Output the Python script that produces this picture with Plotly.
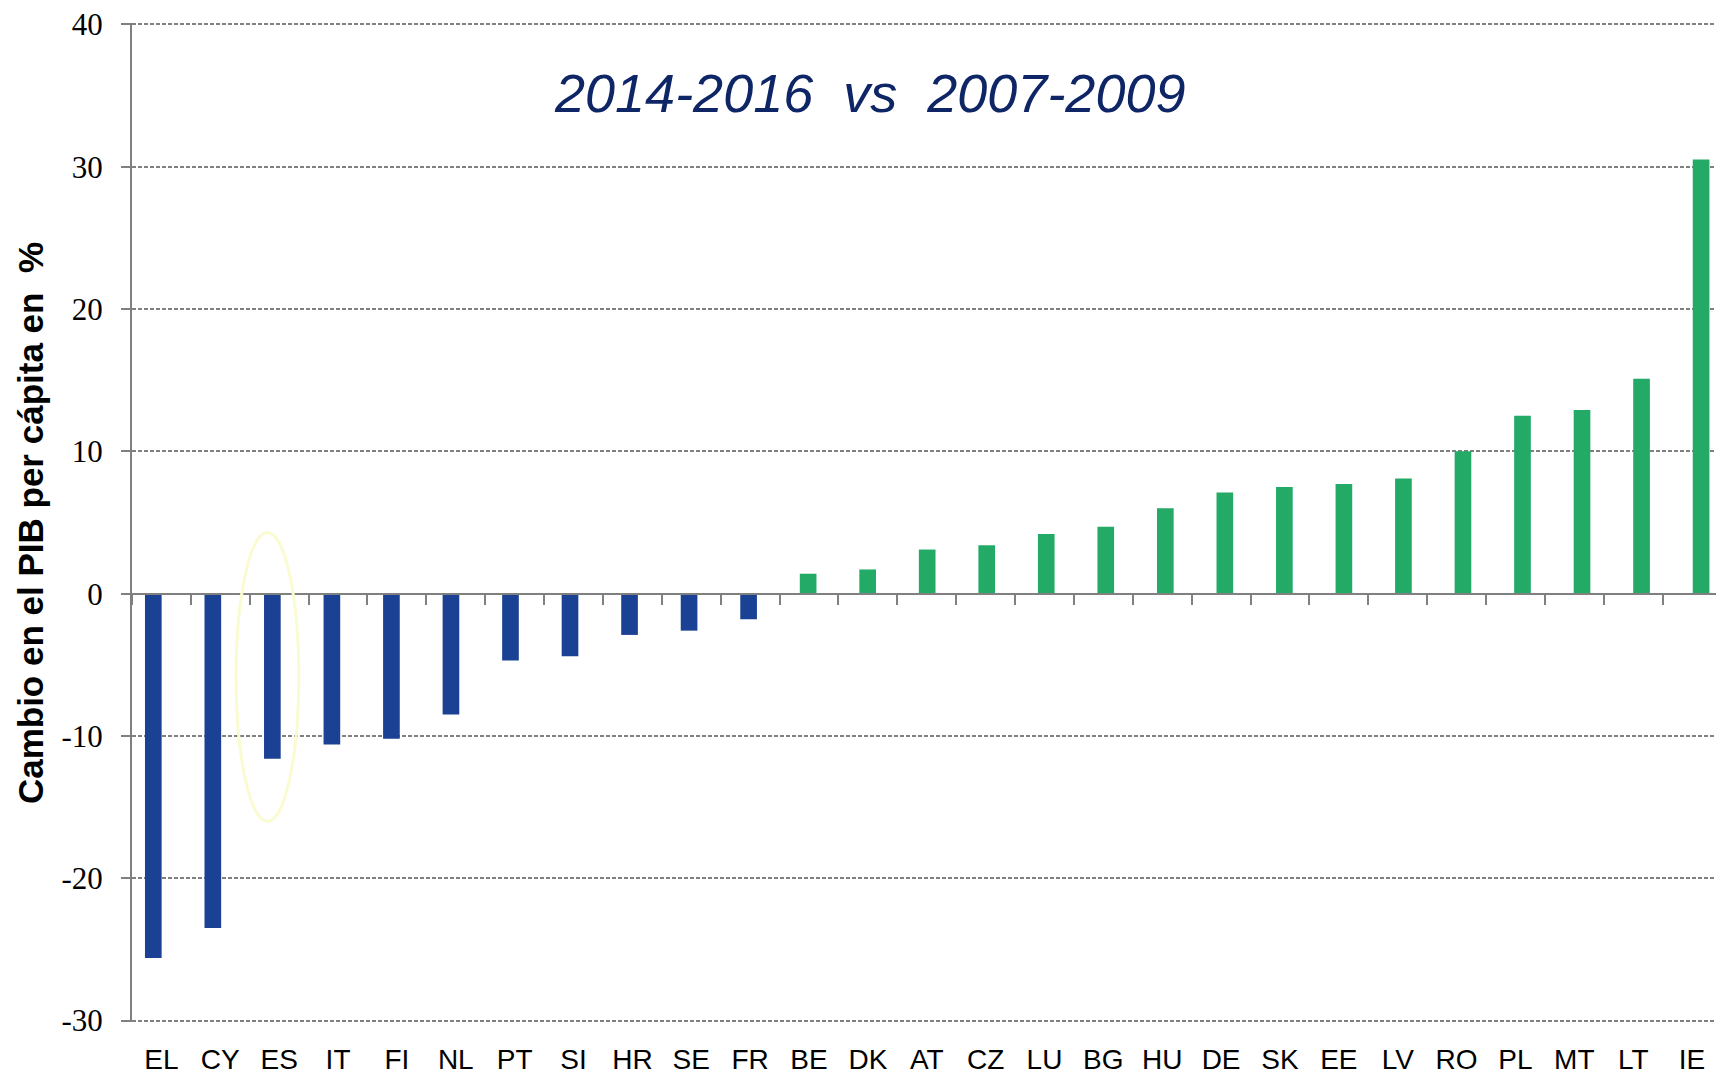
import plotly.graph_objects as go

countries = ["EL", "CY", "ES", "IT", "FI", "NL", "PT", "SI", "HR", "SE", "FR",
             "BE", "DK", "AT", "CZ", "LU", "BG", "HU", "DE", "SK", "EE", "LV",
             "RO", "PL", "MT", "LT", "IE"]
change_pct = [-25.6, -23.5, -11.6, -10.6, -10.2, -8.5, -4.7, -4.4, -2.9, -2.6, -1.8,
              1.4, 1.7, 3.1, 3.4, 4.2, 4.7, 6.0, 7.1, 7.5, 7.7, 8.1,
              10.0, 12.5, 12.9, 15.1, 30.5]
y_ticks = [-30, -20, -10, 0, 10, 20, 30, 40]
highlight = "ES"
highlight_span = (-16.0, 4.3)

title_text = "2014-2016  vs  2007-2009"
y_title = "Cambio en el PIB per cápita en  %"

BLUE = "#1A4193"
GREEN = "#22AA66"
GRAY = "#808080"

colors = [BLUE if v < 0 else GREEN for v in change_pct]

W, H = 1716, 1075
L = 132
ymin, ymax = -30.1, 40.1
px_per_unit = 14.24
plot_h = (ymax - ymin) * px_per_unit
T = 24 - 0.1 * px_per_unit
B = H - T - plot_h
zero_pos = (0 - ymin) / (ymax - ymin)
plot_w = W - L

bar_step = 59.53
bar_r0 = -(153.3 - L) / bar_step
bar_range = [bar_r0, bar_r0 + plot_w / bar_step]
slot_step = 58.87
slot_range = [-0.5, -0.5 + plot_w / slot_step]

fig = go.Figure()
fig.add_trace(go.Bar(x=countries, y=change_pct, marker=dict(color=colors, line=dict(width=0)),
                     xaxis="x", yaxis="y", showlegend=False))
# invisible helper traces for the tick axis (at zero) and the labelled bottom axis
for ax in ("x2", "x3"):
    fig.add_trace(go.Scatter(x=countries, y=[0] * len(countries), mode="markers",
                             marker=dict(opacity=0), xaxis=ax, yaxis="y",
                             showlegend=False, hoverinfo="skip"))

fig.update_layout(
    width=W, height=H,
    margin=dict(l=L, r=0, t=T, b=B, autoexpand=False),
    paper_bgcolor="white", plot_bgcolor="white",
    bargap=0.72,
    xaxis=dict(
        type="category", range=bar_range, showticklabels=False, ticks="",
        showgrid=False, showline=False, zeroline=False, automargin=False,
    ),
    xaxis2=dict(
        type="category", range=slot_range, overlaying="x", anchor="free",
        position=zero_pos, showticklabels=False, ticks="outside",
        tickson="boundaries", ticklen=10, tickwidth=2, tickcolor=GRAY,
        showgrid=False, showline=True, linecolor=GRAY, linewidth=2,
        zeroline=False, layer="above traces", automargin=False,
    ),
    xaxis3=dict(
        type="category", range=slot_range, overlaying="x", side="bottom",
        anchor="y", showline=False, showgrid=False, ticks="",
        ticklabelstandoff=18, automargin=False,
        tickfont=dict(family="Liberation Sans, Arial", size=28, color="black"),
    ),
    yaxis=dict(
        range=[ymin, ymax], tickvals=y_ticks, ticktext=[str(v) for v in y_ticks],
        showline=True, linecolor=GRAY, linewidth=2,
        ticks="outside", ticklen=9, tickwidth=2, tickcolor=GRAY,
        ticklabelstandoff=12,
        showgrid=True, gridcolor=GRAY, gridwidth=1.5, griddash="4px,2px",
        zeroline=False, automargin=False,
        tickfont=dict(family="Liberation Serif, Times New Roman, serif", size=31, color="black"),
    ),
    annotations=[
        dict(text="<i>" + title_text + "</i>", xref="paper", yref="paper",
             x=(870 - L) / plot_w, y=(H - B - 93) / plot_h,
             xanchor="center", yanchor="middle", showarrow=False,
             font=dict(family="Liberation Sans, Arial", size=54, color="#0E2566")),
        dict(text="<b>" + y_title + "</b>", xref="paper", yref="paper",
             x=(30 - L) / plot_w, y=(H - B - 523) / plot_h, textangle=-90,
             xanchor="center", yanchor="middle", showarrow=False,
             font=dict(family="Liberation Sans, Arial", size=35, color="black")),
    ],
)

hi = countries.index(highlight)
fig.add_shape(type="circle", xref="x", yref="y",
              x0=hi - 0.61, x1=hi + 0.445, y0=highlight_span[0], y1=highlight_span[1],
              line=dict(color="#FBFBD2", width=3), layer="above")

fig.write_html("out.html", config={"displayModeBar": False},
               post_script="document.body.style.margin='0';document.body.style.overflow='hidden';")
